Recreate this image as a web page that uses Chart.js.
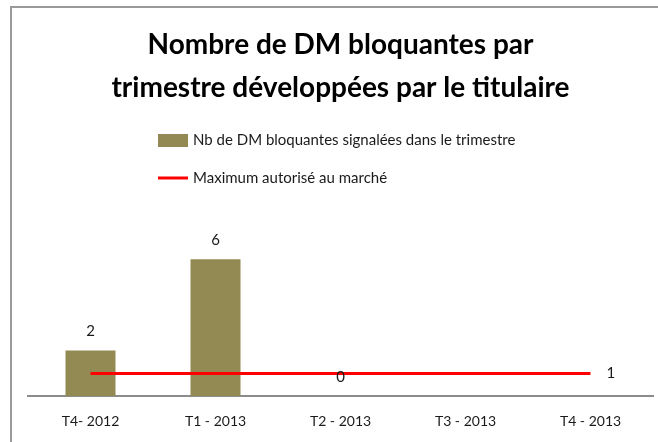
<!DOCTYPE html>
<html>
<head>
<meta charset="utf-8">
<script src="https://cdn.jsdelivr.net/npm/chart.js@4.4.0/dist/chart.umd.min.js"></script>
<style>
  html, body { margin: 0; padding: 0; background: #fff; }
  #wrap { width: 658px; height: 442px; }
</style>
</head>
<body>
<div id="wrap"><canvas id="myChart" width="658" height="442"></canvas></div>
<script>
// chart data
const quarters = ['T4- 2012', 'T1 - 2013', 'T2 - 2013', 'T3 - 2013', 'T4 - 2013'];
const blockingCounts = [2, 6, 0, null, null];
const maxAllowed = [1, 1, 1, 1, 1];
const seriesNames = ['Nb de DM bloquantes signalées dans le trimestre', 'Maximum autorisé au marché'];
const titleLines = ['Nombre de DM bloquantes par', 'trimestre développées par le titulaire'];

const FONT = 'Lato, "Open Sans", sans-serif';
const COLOR_BAR = '#938953';
const COLOR_MAX = '#ff0000';
const COLOR_TEXT = '#1a1a1a';

var ctx = document.querySelector('#myChart');

// frame around the chart (only top & left are visible in the picture)
const framePlugin = {
  id: 'frame',
  beforeDraw(chart) {
    const c = chart.ctx;
    c.save();
    c.strokeStyle = '#9a9a9a';
    c.lineWidth = 2;
    c.strokeRect(11, 7, 700, 500);
    c.restore();
  }
};

// vertical legend drawn under the title
const legendPlugin = {
  id: 'vertLegend',
  afterDraw(chart) {
    const c = chart.ctx;
    const x = 158;
    c.save();
    c.font = '15px ' + FONT;
    c.textBaseline = 'middle';
    c.fillStyle = COLOR_BAR;
    c.fillRect(x, 134, 30, 13);
    c.fillStyle = COLOR_TEXT;
    c.fillText(seriesNames[0], x + 35, 140);
    c.strokeStyle = COLOR_MAX;
    c.lineWidth = 3;
    c.beginPath();
    c.moveTo(x, 178);
    c.lineTo(x + 30, 178);
    c.stroke();
    c.fillText(seriesNames[1], x + 35, 178);
    c.restore();
  }
};

// value labels: above bars, and at the end of the max line
const valuesPlugin = {
  id: 'values',
  afterDatasetsDraw(chart) {
    const c = chart.ctx;
    c.save();
    c.font = '15px ' + FONT;
    c.fillStyle = COLOR_TEXT;
    c.textBaseline = 'middle';
    const barMeta = chart.getDatasetMeta(0);
    barMeta.data.forEach((el, i) => {
      const v = blockingCounts[i];
      if (v === null) return;
      c.textAlign = 'center';
      c.fillText(String(v), el.x, el.y - 19);
    });
    const lineMeta = chart.getDatasetMeta(1);
    const last = lineMeta.data[lineMeta.data.length - 1];
    c.textAlign = 'left';
    c.fillText(String(maxAllowed[maxAllowed.length - 1]), last.x + 16, last.y);
    c.restore();
  }
};

new Chart(ctx, {
  type: 'bar',
  data: {
    labels: quarters,
    datasets: [
      {
        type: 'bar',
        label: seriesNames[0],
        data: blockingCounts,
        backgroundColor: COLOR_BAR,
        borderWidth: 0,
        barPercentage: 0.4,
        categoryPercentage: 1,
        order: 1
      },
      {
        type: 'line',
        label: seriesNames[1],
        data: maxAllowed,
        borderColor: COLOR_MAX,
        borderWidth: 3,
        pointRadius: 0,
        fill: false,
        order: 0
      }
    ]
  },
  options: {
    responsive: false,
    animation: false,
    layout: { padding: { left: 28, right: 5, top: 0, bottom: 3 } },
    plugins: {
      legend: { display: false },
      tooltip: { enabled: false },
      title: {
        display: true,
        text: titleLines,
        color: '#000',
        font: { family: FONT, size: 28, weight: 'bold', lineHeight: 1.55 },
        padding: { top: 23, bottom: 81 }
      }
    },
    scales: {
      x: {
        offset: true,
        grid: { display: false },
        border: { display: true, color: '#8c8c8c', width: 2 },
        ticks: { color: COLOR_TEXT, font: { family: FONT, size: 14 }, padding: 9, maxRotation: 0 }
      },
      y: {
        display: false,
        min: 0,
        max: 9
      }
    }
  },
  plugins: [framePlugin, legendPlugin, valuesPlugin]
});
</script>
</body>
</html>
